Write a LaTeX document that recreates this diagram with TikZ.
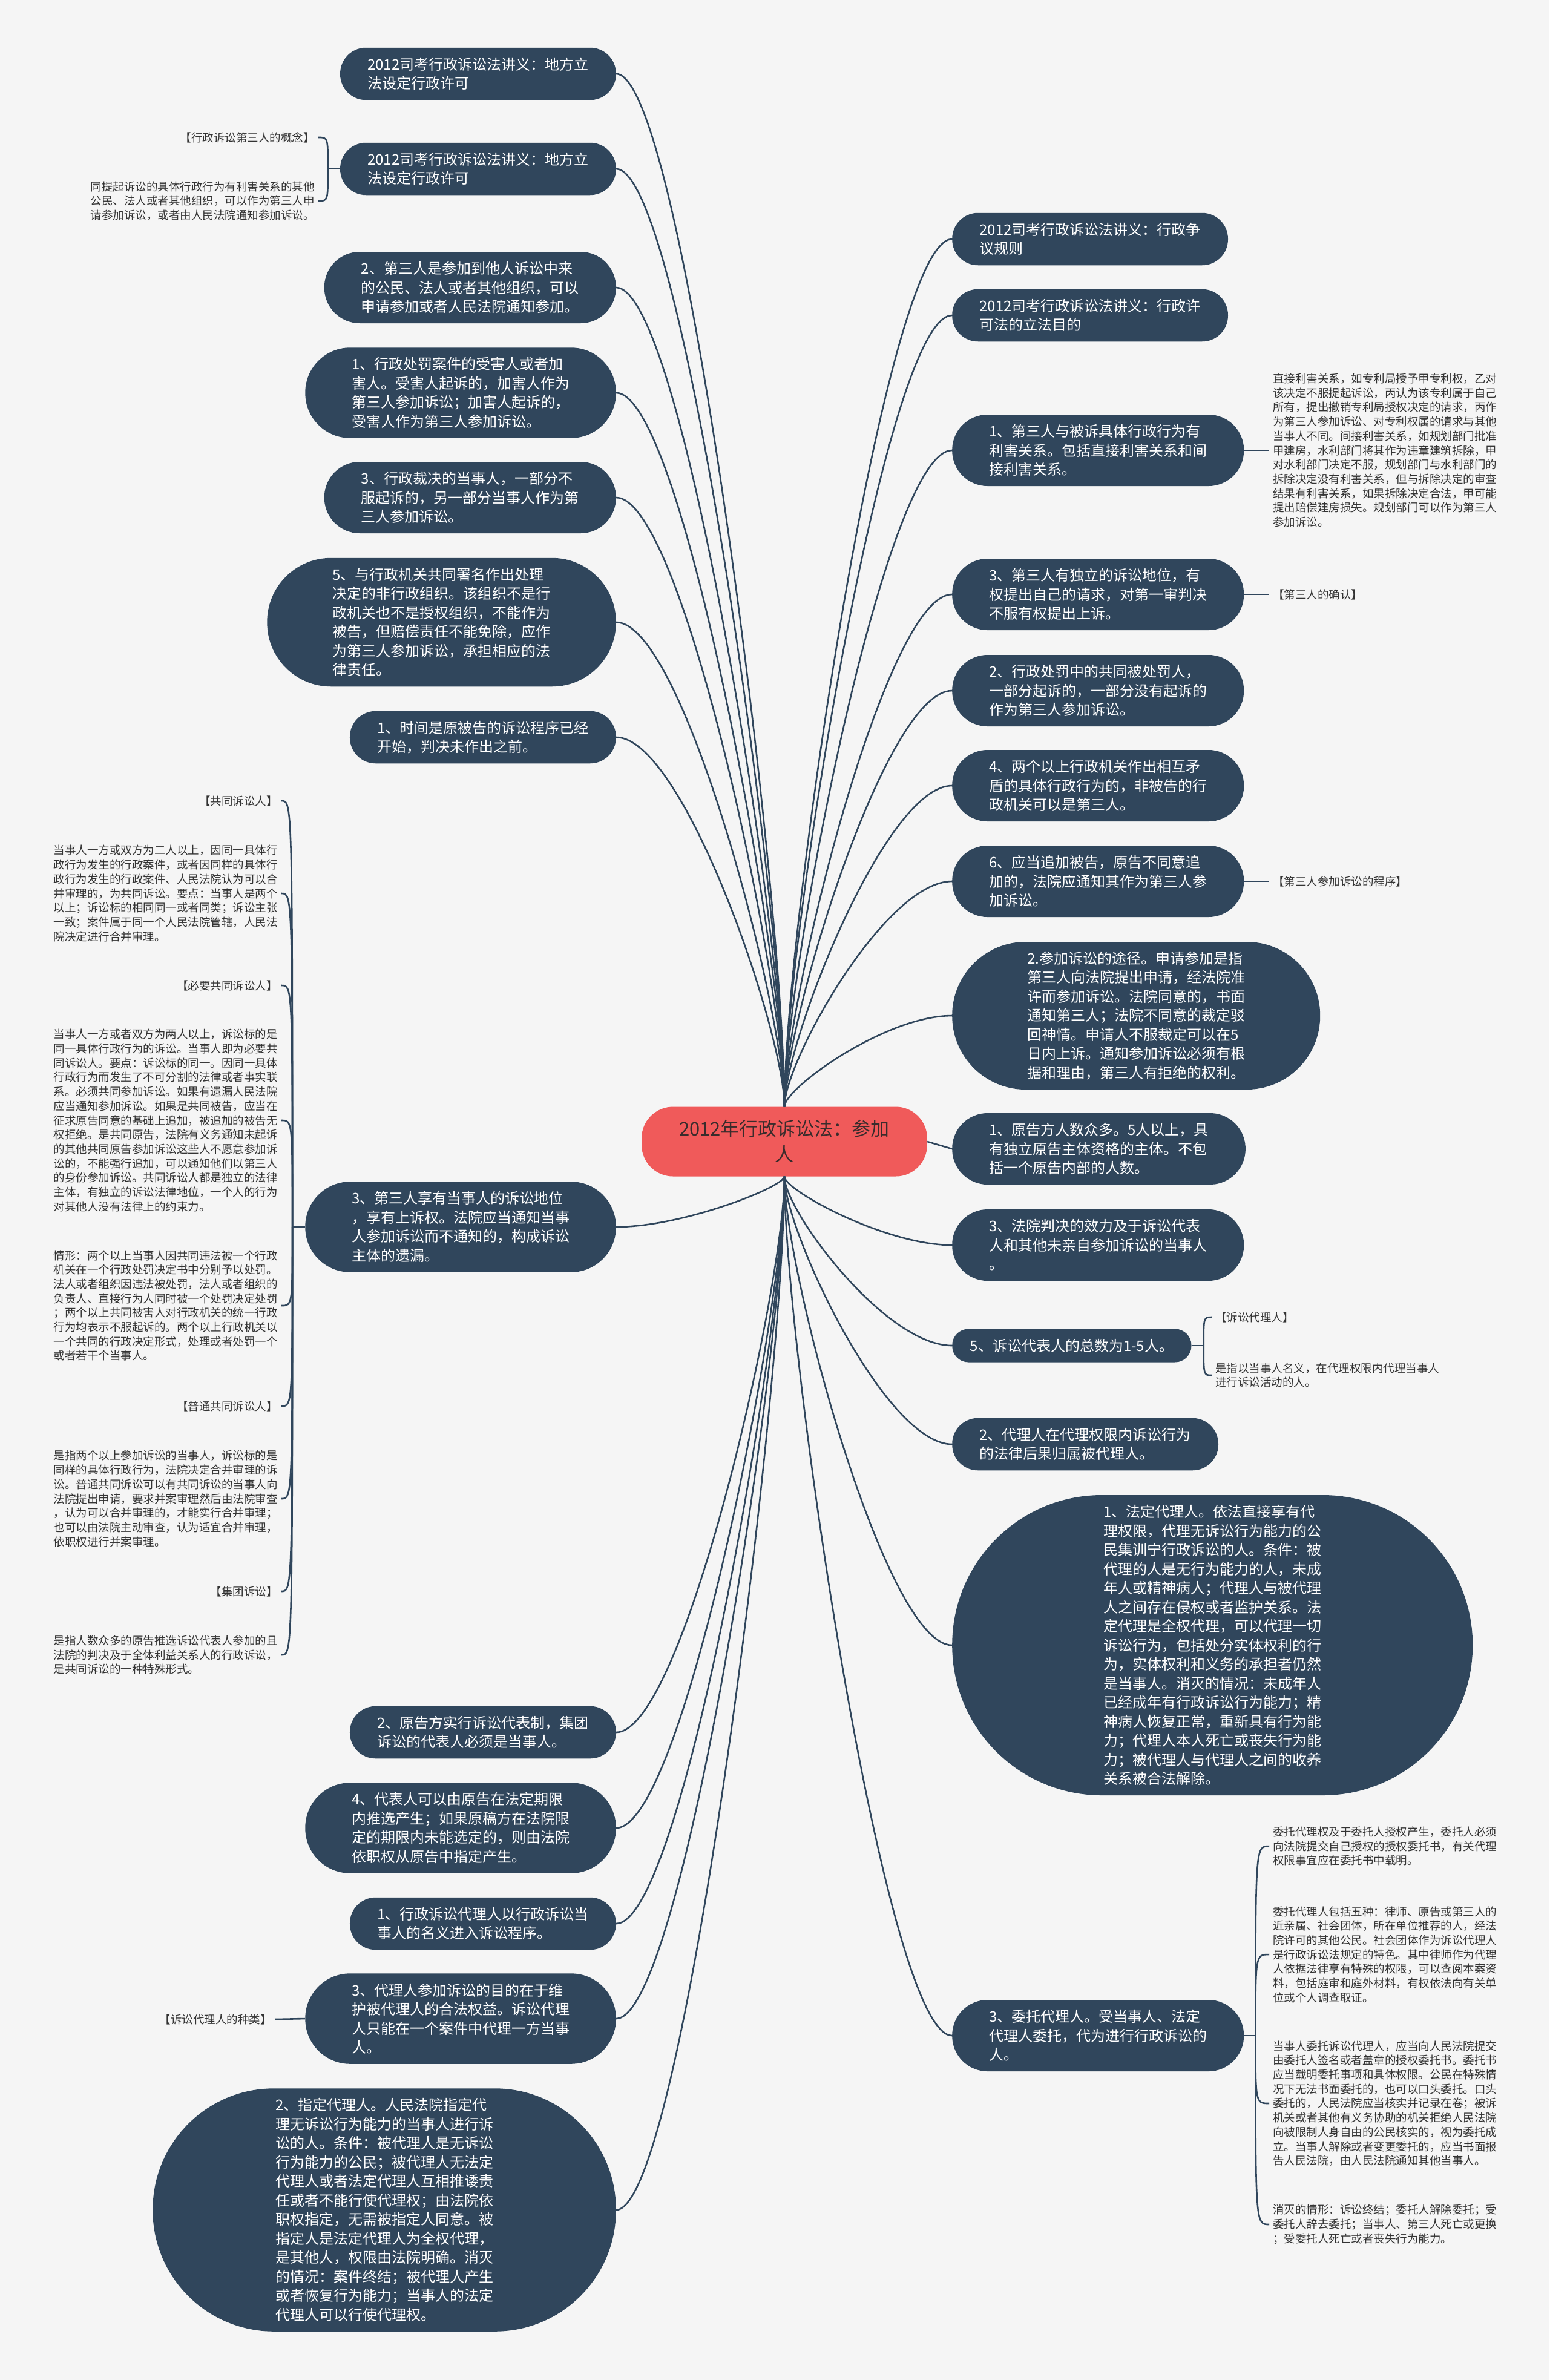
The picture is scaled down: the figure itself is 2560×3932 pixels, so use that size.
\documentclass[tikz,border=0pt]{standalone}
\usepackage{fontspec}
\setmainfont{Noto Sans CJK SC}
\usepackage{tikz}
\usetikzlibrary{calc}

\definecolor{bggray}{HTML}{F5F5F5}
\definecolor{topicblue}{HTML}{30465C}
\definecolor{rootred}{HTML}{F05A5A}
\definecolor{roottext}{HTML}{3A2C2C}
\definecolor{notegray}{HTML}{333333}

\newcommand\topicsize{\fontsize{24pt}{31.5pt}\selectfont}
\newcommand\notesize{\fontsize{18.5pt}{23.7pt}\selectfont}
\newcommand\rootsize{\fontsize{31pt}{42pt}\selectfont}

\begin{document}
\begin{tikzpicture}[
  x=1pt, y=-1pt,
  % #1 = number of text lines
  topic/.style={rectangle, fill=topicblue, text=white, font=\topicsize, align=left,
                inner ysep=0pt, minimum height={31.5*#1+23.5},
                inner xsep={(31.5*#1+23.5)/2+2}, rounded corners={(31.5*#1+23.5)/2-0.5}},
  rootnode/.style={rectangle, fill=rootred, text=roottext, font=\rootsize, align=center,
                inner ysep=0pt, minimum height=115, inner xsep=62, rounded corners=52},
  note/.style={text=notegray, font=\notesize, align=left, inner sep=6pt},
  link/.style={draw=topicblue, line width=2.6pt}
]
  \fill[bggray] (0,0) rectangle (2560,3932);
  \useasboundingbox (0,0) rectangle (2560,3932);

  \node[rootnode] (root) at (1296,1886) {2012年行政诉讼法：参加\\人};

  % left branch
  \node[topic=2, anchor=east] (l1)  at (1018,122)  {2012司考行政诉讼法讲义：地方立\\法设定行政许可};
  \node[topic=2, anchor=east] (l2)  at (1018,279)  {2012司考行政诉讼法讲义：地方立\\法设定行政许可};
  \node[topic=3, anchor=east] (l3)  at (1018,475)  {2、第三人是参加到他人诉讼中来\\的公民、法人或者其他组织，可以\\申请参加或者人民法院通知参加。};
  \node[topic=4, anchor=east] (l4)  at (1018,649)  {1、行政处罚案件的受害人或者加\\害人。受害人起诉的，加害人作为\\第三人参加诉讼；加害人起诉的，\\受害人作为第三人参加诉讼。};
  \node[topic=3, anchor=east] (l5)  at (1018,822)  {3、行政裁决的当事人，一部分不\\服起诉的，另一部分当事人作为第\\三人参加诉讼。};
  \node[topic=6, anchor=east] (l6)  at (1018,1028) {5、与行政机关共同署名作出处理\\决定的非行政组织。该组织不是行\\政机关也不是授权组织，不能作为\\被告，但赔偿责任不能免除，应作\\为第三人参加诉讼，承担相应的法\\律责任。};
  \node[topic=2, anchor=east] (l7)  at (1018,1218) {1、时间是原被告的诉讼程序已经\\开始，判决未作出之前。};
  \node[topic=4, anchor=east] (l8)  at (1018,2027) {3、第三人享有当事人的诉讼地位\\，享有上诉权。法院应当通知当事\\人参加诉讼而不通知的，构成诉讼\\主体的遗漏。};
  \node[topic=2, anchor=east] (l9)  at (1018,2862) {2、原告方实行诉讼代表制，集团\\诉讼的代表人必须是当事人。};
  \node[topic=4, anchor=east] (l10) at (1018,3020) {4、代表人可以由原告在法定期限\\内推选产生；如果原稿方在法院限\\定的期限内未能选定的，则由法院\\依职权从原告中指定产生。};
  \node[topic=2, anchor=east] (l11) at (1018,3178) {1、行政诉讼代理人以行政诉讼当\\事人的名义进入诉讼程序。};
  \node[topic=4, anchor=east] (l12) at (1018,3335) {3、代理人参加诉讼的目的在于维\\护被代理人的合法权益。诉讼代理\\人只能在一个案件中代理一方当事\\人。};
  \node[topic=12, anchor=east] (l13) at (1018,3651) {2、指定代理人。人民法院指定代\\理无诉讼行为能力的当事人进行诉\\讼的人。条件：被代理人是无诉讼\\行为能力的公民；被代理人无法定\\代理人或者法定代理人互相推诿责\\任或者不能行使代理权；由法院依\\职权指定，无需被指定人同意。被\\指定人是法定代理人为全权代理，\\是其他人，权限由法院明确。消灭\\的情况：案件终结；被代理人产生\\或者恢复行为能力；当事人的法定\\代理人可以行使代理权。};

  % right branch
  \node[topic=2, anchor=west] (r1)  at (1573,395)  {2012司考行政诉讼法讲义：行政争\\议规则};
  \node[topic=2, anchor=west] (r2)  at (1573,521)  {2012司考行政诉讼法讲义：行政许\\可法的立法目的};
  \node[topic=3, anchor=west] (r3)  at (1573,744)  {1、第三人与被诉具体行政行为有\\利害关系。包括直接利害关系和间\\接利害关系。};
  \node[topic=3, anchor=west] (r4)  at (1573,982)  {3、第三人有独立的诉讼地位，有\\权提出自己的请求，对第一审判决\\不服有权提出上诉。};
  \node[topic=3, anchor=west] (r5)  at (1573,1141) {2、行政处罚中的共同被处罚人，\\一部分起诉的，一部分没有起诉的\\作为第三人参加诉讼。};
  \node[topic=3, anchor=west] (r6)  at (1573,1298) {4、两个以上行政机关作出相互矛\\盾的具体行政行为的，非被告的行\\政机关可以是第三人。};
  \node[topic=3, anchor=west] (r7)  at (1573,1456) {6、应当追加被告，原告不同意追\\加的，法院应通知其作为第三人参\\加诉讼。};
  \node[topic=7, anchor=west] (r8)  at (1573,1678) {2.参加诉讼的途径。申请参加是指\\第三人向法院提出申请，经法院准\\许而参加诉讼。法院同意的，书面\\通知第三人；法院不同意的裁定驳\\回神情。申请人不服裁定可以在5\\日内上诉。通知参加诉讼必须有根\\据和理由，第三人有拒绝的权利。};
  \node[topic=3, anchor=west] (r9)  at (1573,1898) {1、原告方人数众多。5人以上，具\\有独立原告主体资格的主体。不包\\括一个原告内部的人数。};
  \node[topic=3, anchor=west] (r10) at (1573,2057) {3、法院判决的效力及于诉讼代表\\人和其他未亲自参加诉讼的当事人\\。};
  \node[topic=1, anchor=west] (r11) at (1573,2223) {5、诉讼代表人的总数为1-5人。};
  \node[topic=2, anchor=west] (r12) at (1573,2386) {2、代理人在代理权限内诉讼行为\\的法律后果归属被代理人。};
  \node[topic=15, anchor=west] (r13) at (1573,2718) {1、法定代理人。依法直接享有代\\理权限，代理无诉讼行为能力的公\\民集训宁行政诉讼的人。条件：被\\代理的人是无行为能力的人，未成\\年人或精神病人；代理人与被代理\\人之间存在侵权或者监护关系。法\\定代理是全权代理，可以代理一切\\诉讼行为，包括处分实体权利的行\\为，实体权利和义务的承担者仍然\\是当事人。消灭的情况：未成年人\\已经成年有行政诉讼行为能力；精\\神病人恢复正常，重新具有行为能\\力；代理人本人死亡或丧失行为能\\力；被代理人与代理人之间的收养\\关系被合法解除。};
  \node[topic=3, anchor=west] (r14) at (1573,3363) {3、委托代理人。受当事人、法定\\代理人委托，代为进行行政诉讼的\\人。};

  % notes
  \node[note, anchor=east] (n2a) at (526,227) {【行政诉讼第三人的概念】};
  \node[note, anchor=east] (n2b) at (526,332) {同提起诉讼的具体行政行为有利害关系的其他\\公民、法人或者其他组织，可以作为第三人申\\请参加诉讼，或者由人民法院通知参加诉讼。};

  \node[note, anchor=east] (n8a) at (465,1323) {【共同诉讼人】};
  \node[note, anchor=east] (n8b) at (465,1476) {当事人一方或双方为二人以上，因同一具体行\\政行为发生的行政案件，或者因同样的具体行\\政行为发生的行政案件、人民法院认为可以合\\并审理的，为共同诉讼。要点：当事人是两个\\以上；诉讼标的相同同一或者同类；诉讼主张\\一致；案件属于同一个人民法院管辖，人民法\\院决定进行合并审理。};
  \node[note, anchor=east] (n8c) at (465,1628) {【必要共同诉讼人】};
  \node[note, anchor=east] (n8d) at (465,1851) {当事人一方或者双方为两人以上，诉讼标的是\\同一具体行政行为的诉讼。当事人即为必要共\\同诉讼人。要点：诉讼标的同一。因同一具体\\行政行为而发生了不可分割的法律或者事实联\\系。必须共同参加诉讼。如果有遗漏人民法院\\应当通知参加诉讼。如果是共同被告，应当在\\征求原告同意的基础上追加，被追加的被告无\\权拒绝。是共同原告，法院有义务通知未起诉\\的其他共同原告参加诉讼这些人不愿意参加诉\\讼的，不能强行追加，可以通知他们以第三人\\的身份参加诉讼。共同诉讼人都是独立的法律\\主体，有独立的诉讼法律地位，一个人的行为\\对其他人没有法律上的约束力。};
  \node[note, anchor=east] (n8e) at (465,2157) {情形：两个以上当事人因共同违法被一个行政\\机关在一个行政处罚决定书中分别予以处罚。\\法人或者组织因违法被处罚，法人或者组织的\\负责人、直接行为人同时被一个处罚决定处罚\\；两个以上共同被害人对行政机关的统一行政\\行为均表示不服起诉的。两个以上行政机关以\\一个共同的行政决定形式，处理或者处罚一个\\或者若干个当事人。};
  \node[note, anchor=east] (n8f) at (465,2323) {【普通共同诉讼人】};
  \node[note, anchor=east] (n8g) at (465,2476) {是指两个以上参加诉讼的当事人，诉讼标的是\\同样的具体行政行为，法院决定合并审理的诉\\讼。普通共同诉讼可以有共同诉讼的当事人向\\法院提出申请，要求并案审理然后由法院审查\\，认为可以合并审理的，才能实行合并审理；\\也可以由法院主动审查，认为适宜合并审理，\\依职权进行并案审理。};
  \node[note, anchor=east] (n8h) at (465,2629) {【集团诉讼】};
  \node[note, anchor=east] (n8i) at (465,2734) {是指人数众多的原告推选诉讼代表人参加的且\\法院的判决及于全体利益关系人的行政诉讼，\\是共同诉讼的一种特殊形式。};

  \node[note, anchor=east] (n12) at (455,3336) {【诉讼代理人的种类】};

  \node[note, anchor=west] (n3) at (2097,744) {直接利害关系，如专利局授予甲专利权，乙对\\该决定不服提起诉讼，丙认为该专利属于自己\\所有，提出撤销专利局授权决定的请求，丙作\\为第三人参加诉讼、对专利权属的请求与其他\\当事人不同。间接利害关系，如规划部门批准\\甲建房，水利部门将其作为违章建筑拆除，甲\\对水利部门决定不服，规划部门与水利部门的\\拆除决定没有利害关系，但与拆除决定的审查\\结果有利害关系，如果拆除决定合法，甲可能\\提出赔偿建房损失。规划部门可以作为第三人\\参加诉讼。};
  \node[note, anchor=west] (n4) at (2097,982)  {【第三人的确认】};
  \node[note, anchor=west] (n7) at (2097,1456) {【第三人参加诉讼的程序】};

  \node[note, anchor=west] (n11a) at (2002,2176) {【诉讼代理人】};
  \node[note, anchor=west] (n11b) at (2002,2272) {是指以当事人名义，在代理权限内代理当事人\\进行诉讼活动的人。};

  \node[note, anchor=west] (n14a) at (2097,3050) {委托代理权及于委托人授权产生，委托人必须\\向法院提交自己授权的授权委托书，有关代理\\权限事宜应在委托书中载明。};
  \node[note, anchor=west] (n14b) at (2097,3229) {委托代理人包括五种：律师、原告或第三人的\\近亲属、社会团体，所在单位推荐的人，经法\\院许可的其他公民。社会团体作为诉讼代理人\\是行政诉讼法规定的特色。其中律师作为代理\\人依据法律享有特殊的权限，可以查阅本案资\\料，包括庭审和庭外材料，有权依法向有关单\\位或个人调查取证。};
  \node[note, anchor=west] (n14c) at (2097,3475) {当事人委托诉讼代理人，应当向人民法院提交\\由委托人签名或者盖章的授权委托书。委托书\\应当载明委托事项和具体权限。公民在特殊情\\况下无法书面委托的，也可以口头委托。口头\\委托的，人民法院应当核实并记录在卷；被诉\\机关或者其他有义务协助的机关拒绝人民法院\\向被限制人身自由的公民核实的，视为委托成\\立。当事人解除或者变更委托的，应当书面报\\告人民法院，由人民法院通知其他当事人。};
  \node[note, anchor=west] (n14d) at (2097,3675) {消灭的情形：诉讼终结；委托人解除委托；受\\委托人辞去委托；当事人、第三人死亡或更换\\；受委托人死亡或者丧失行为能力。};

  % root connectors
  \foreach \i in {1,...,7}
    \draw[link] (root.north) .. controls ($(root.north)!0.2!(root.north |- l\i.east)$)
      and ($(l\i.east)!0.4!(root.north |- l\i.east)$) .. (l\i.east);
  \foreach \i in {8,...,13}
    \draw[link] (root.south) .. controls ($(root.south)!0.2!(root.south |- l\i.east)$)
      and ($(l\i.east)!0.4!(root.south |- l\i.east)$) .. (l\i.east);
  \foreach \i in {1,...,8}
    \draw[link] (root.north) .. controls ($(root.north)!0.2!(root.north |- r\i.west)$)
      and ($(r\i.west)!0.4!(root.north |- r\i.west)$) .. (r\i.west);
  \draw[link] (root.east) -- (r9.west);
  \foreach \i in {10,...,14}
    \draw[link] (root.south) .. controls ($(root.south)!0.2!(root.south |- r\i.west)$)
      and ($(r\i.west)!0.4!(root.south |- r\i.west)$) .. (r\i.west);

  % note connectors
  \coordinate (hub2) at ($(l2.west)+(-20,0)$);
  \draw[link] (l2.west) -- (hub2);
  \foreach \n in {n2a,n2b}
    \draw[link] (hub2) .. controls (hub2 |- \n.east) and (hub2 |- \n.east) .. (\n.east);

  \coordinate (hub8) at ($(l8.west)+(-21,0)$);
  \draw[link] (l8.west) -- (hub8);
  \foreach \n in {n8a,n8b,n8c,n8d,n8e,n8f,n8g,n8h,n8i}
    \draw[link] (hub8) .. controls (hub8 |- \n.east) and (hub8 |- \n.east) .. (\n.east);

  \coordinate (hub11) at ($(r11.east)+(20,0)$);
  \draw[link] (r11.east) -- (hub11);
  \foreach \n in {n11a,n11b}
    \draw[link] (hub11) .. controls (hub11 |- \n.west) and (hub11 |- \n.west) .. (\n.west);

  \coordinate (hub14) at ($(r14.east)+(19,0)$);
  \draw[link] (r14.east) -- (hub14);
  \foreach \n in {n14a,n14b,n14c,n14d}
    \draw[link] (hub14) .. controls (hub14 |- \n.west) and (hub14 |- \n.west) .. (\n.west);

  \draw[link] (r3.east) -- (n3.west);
  \draw[link] (r4.east) -- (n4.west);
  \draw[link] (r7.east) -- (n7.west);
  \draw[link] (l12.west) -- (n12.east);
\end{tikzpicture}
\end{document}
